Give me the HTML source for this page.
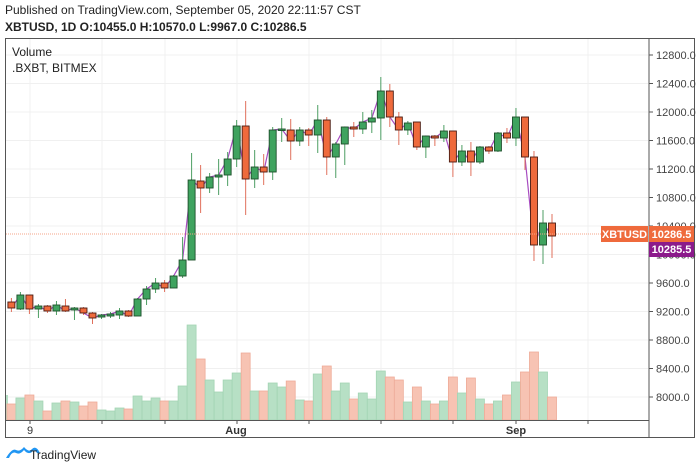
<!DOCTYPE html>
<html><head><meta charset="utf-8"><style>
body{margin:0;background:#fff;width:700px;height:470px;overflow:hidden;font-family:"Liberation Sans",sans-serif}
</style></head><body>
<svg id="s" width="700" height="470" xmlns="http://www.w3.org/2000/svg" font-family="Liberation Sans, sans-serif">
<rect width="700" height="470" fill="#fff"/>
<text x="5" y="14" font-size="12" fill="#222">Published on TradingView.com, September 05, 2020 22:11:57 CST</text>
<text x="5" y="31" font-size="12" font-weight="bold" fill="#222">XBTUSD, 1D  O:10455.0 H:10570.0 L:9967.0 C:10286.5</text>
<g id="grid"></g>
<g id="vol"></g>
<polyline id="line" fill="none" stroke="#a74bc0" stroke-width="1.2"/>
<g id="cand"></g>
<line x1="6" y1="234" x2="648" y2="234" stroke="#f4a58a" stroke-width="1" stroke-dasharray="1,1"/>
<rect x="5.5" y="38.5" width="689" height="399" fill="none" stroke="#555"/>
<line x1="649" y1="38" x2="649" y2="438" stroke="#555"/>
<line x1="5" y1="420.5" x2="649" y2="420.5" stroke="#555"/>
<g id="ax" font-size="11" fill="#444"></g>
<text x="12" y="56" font-size="12" fill="#222">Volume</text>
<text x="12" y="72" font-size="12" fill="#222">.BXBT, BITMEX</text>
<text x="30" y="434" font-size="11" fill="#333" text-anchor="middle">9</text>
<text x="236" y="434" font-size="11" fill="#333" text-anchor="middle" font-weight="bold">Aug</text>
<text x="516" y="434" font-size="11" fill="#333" text-anchor="middle" font-weight="bold">Sep</text>
<rect x="601" y="226" width="47" height="16" fill="#ef6a3c"/>
<text x="624.5" y="238" font-size="11" fill="#fff" text-anchor="middle" font-weight="bold">XBTUSD</text>
<rect x="649" y="226" width="45" height="16" fill="#ef6a3c"/>
<text x="671.5" y="238" font-size="11" fill="#fff" text-anchor="middle" font-weight="bold">10286.5</text>
<rect x="649" y="242" width="45" height="15" fill="#8b1a8b"/>
<text x="671.5" y="253" font-size="11" fill="#fff" text-anchor="middle" font-weight="bold">10285.5</text>
<path d="M6 458 q6 -10 10 -8 q4 2 8 -3 q5 6 8 2 q4 -4 8 4 l-3 0 q-3 -5 -5 -1 q-4 3 -8 -2 q-4 5 -8 3 q-4 -2 -7 5z" fill="#2196f3"/>
<text x="30" y="459" font-size="12" fill="#222">TradingView</text>
</svg>
<script>
var C=[["R",302,308,298,312],["G",295,309,292,310],["R",295,309,295,314],["G",306,309,304,318],["R",306,311,305,313],["G",305,311,301,315],["R",306,311,299,312],["G",308,310,307,320],["R",308,313,307,315],["R",313,318,312,324],["G",315,317,314,319],["G",314,316,312,318],["G",311,315,308,319],["R",311,316,310,317],["G",299,316,298,316],["G",289,299,286,305],["G",283,289,278,293],["R",283,288,280,292],["G",276,288,275,288],["G",260,276,237,278],["G",180,260,153,260],["R",181,188,165,213],["G",177,188,173,193],["G",175,177,159,195],["G",159,175,152,186],["G",126,159,120,167],["R",126,179,101,215],["G",167,179,150,188],["R",167,172,154,185],["G",130,172,127,180],["G",129,130,118,142],["R",130,141,119,160],["G",130,141,127,146],["R",130,135,128,146],["G",120,135,105,153],["R",120,157,117,175],["G",144,157,142,178],["G",127,144,127,165],["R",127,129,122,137],["G",122,129,112,134],["G",118,122,110,133],["G",91,118,77,140],["R",91,117,84,127],["R",117,130,112,145],["G",123,130,121,135],["R",122,147,122,150],["G",136,147,136,158],["R",136,138,135,146],["G",131,138,125,142],["R",131,162,131,177],["G",151,162,145,166],["R",151,162,142,176],["G",147,162,146,164],["R",147,151,146,154],["G",133,151,132,152],["R",133,138,128,143],["G",117,138,108,146],["R",117,157,117,170],["R",157,245,151,261],["G",223,245,210,264],["R",223,236,214,258]];
var V=[404,398,395,401,411,403,401,402,406,402,410,411,408,409,396,401,398,401,401,386,325,359,380,392,380,373,353,391,391,383,387,381,400,401,374,366,391,383,399,393,399,371,377,380,402,387,401,404,401,377,393,378,399,404,401,395,382,372,352,372,397];
var ns="http://www.w3.org/2000/svg";
function el(p,t,a){var e=document.createElementNS(ns,t);for(var k in a)e.setAttribute(k,a[k]);document.getElementById(p).appendChild(e);return e;}
var s=document.getElementById("s");
for(var p=8000;p<=12800;p+=400){var y=112+(12000-p)*0.07125;
el("grid","line",{x1:6,x2:648,y1:y,y2:y,stroke:"#f0f0f0"});
el("ax","line",{x1:649,x2:653,y1:y,y2:y,stroke:"#555"});
var t=el("ax","text",{x:656,y:y+4});t.textContent=p+".0";}
[30,102,165,237,309,381,453,516,588].forEach(function(x){el("grid","line",{x1:x,x2:x,y1:39,y2:420,stroke:"#f0f0f0"});el("ax","line",{x1:x,x2:x,y1:420,y2:424,stroke:"#555"});});
el("vol","rect",{x:6,y:395,width:2,height:25,fill:"#b5dfc4"});
var pts=[];
C.forEach(function(c,i){var x=552-(60-i)*9.01;var g=c[0]=="G";
var v=V[i];el("vol","rect",{x:x-4.5,y:v,width:9,height:420-v,fill:g?"#b7e0c5":"#f7c3b3",stroke:g?"#a3d4b4":"#eeab98","stroke-width":0.8});
el("cand","line",{x1:x,x2:x,y1:c[3],y2:c[4],stroke:g?"#4d9e63":"#e0705c","stroke-width":1});
var h=Math.max(c[2]-c[1],1.5);
el("cand","rect",{x:x-3.5,y:c[1],width:7,height:h,fill:g?"#3fa35f":"#ef6a3c",stroke:g?"#1d4f2b":"#4a1c12","stroke-width":0.9});
pts.push(x+","+(g?c[1]:c[2]));});
document.getElementById("line").setAttribute("points",pts.join(" "));
</script>
</body></html>
